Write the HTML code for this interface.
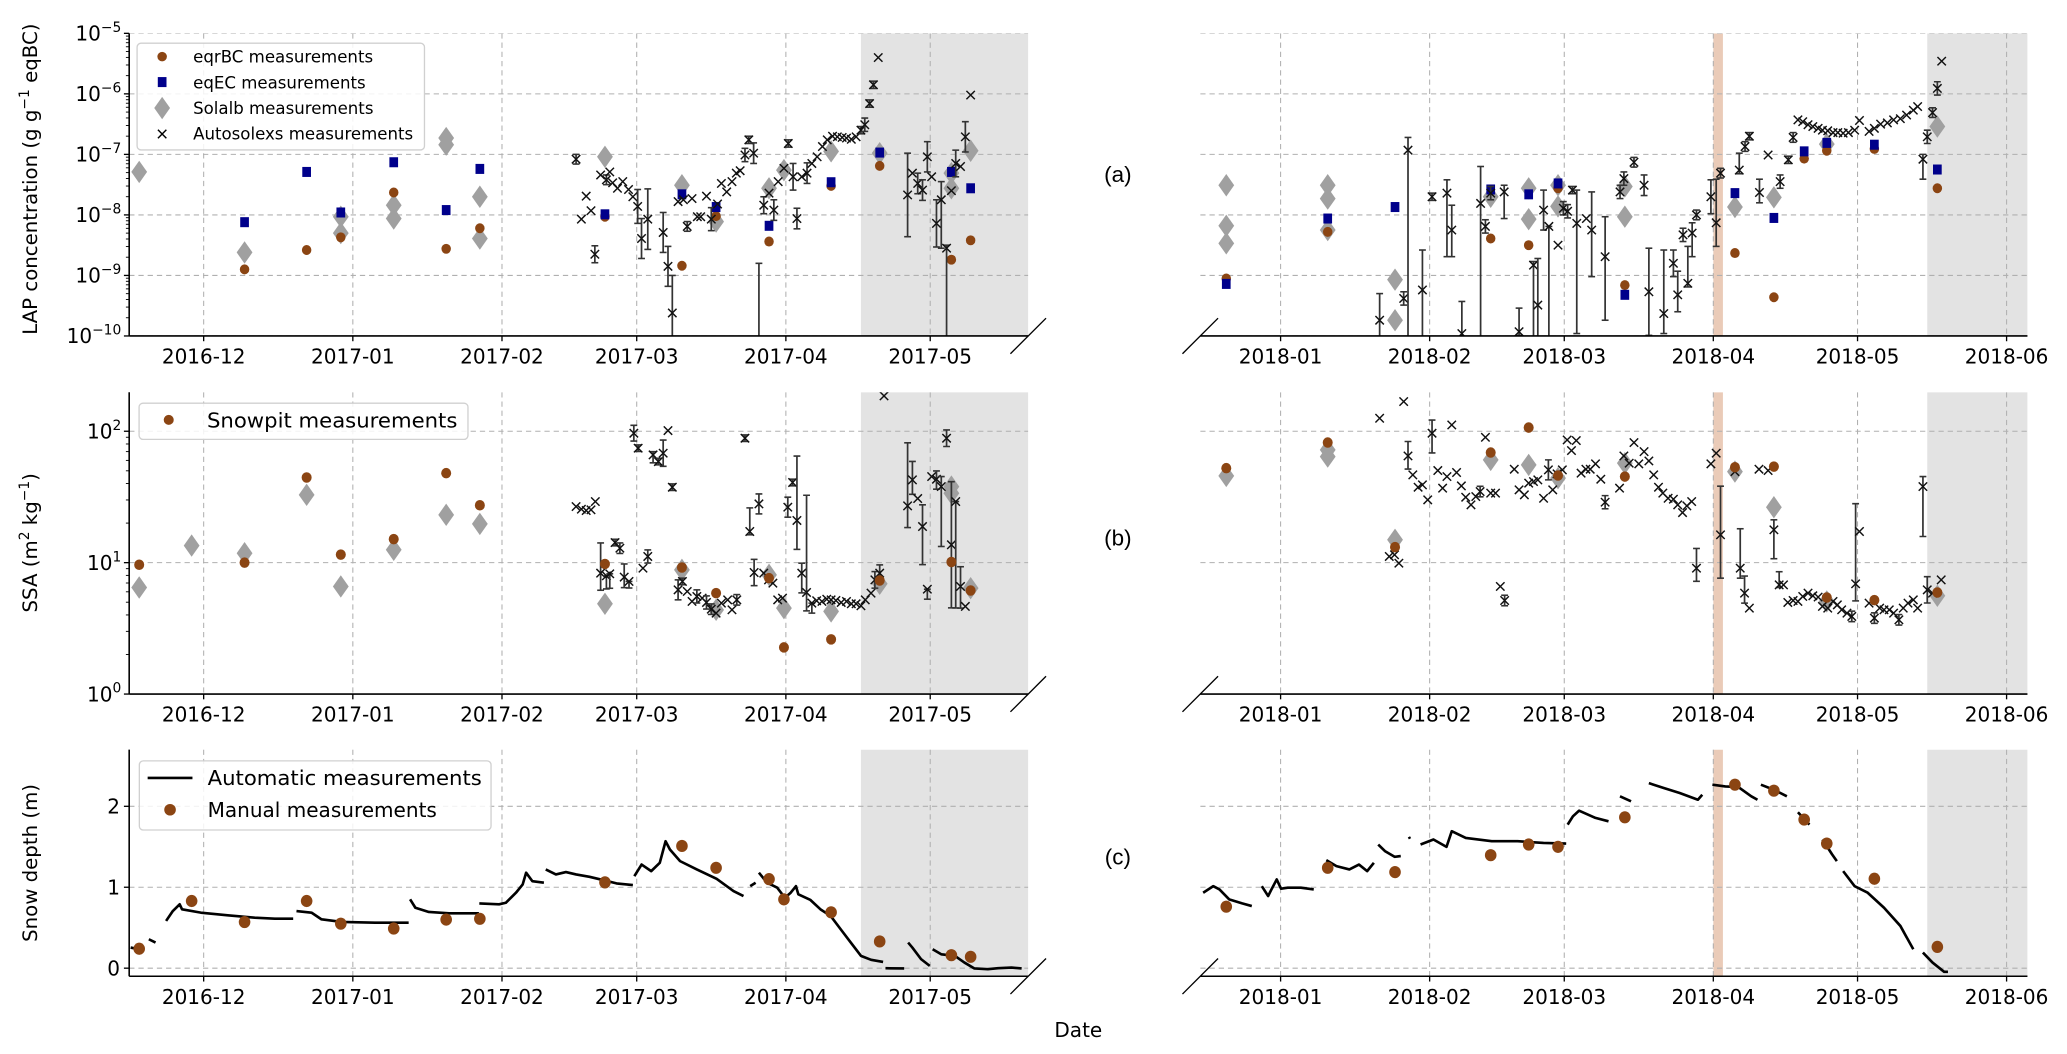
<!DOCTYPE html>
<html><head><meta charset="utf-8"><title>LAP, SSA and snow depth</title>
<style>
html,body{margin:0;padding:0;background:#fff;}
svg{display:block;font-family:"DejaVu Sans","Liberation Sans",sans-serif;}
</style></head>
<body>
<svg id="chart" width="2067" height="1054" viewBox="0 0 1568 800" preserveAspectRatio="none" xmlns="http://www.w3.org/2000/svg"></svg>
<script>
// ===== DATA (days since 2016-12-01 for left, since 2018-01-01 for right) =====
// Panel (a): log10 concentration (g g-1 eqBC)
const aL_bcDays = [8.5,21.4,28.5,39.5,50.4,57.4,83.4,99.4,106.5,117.5,130.4,140.5,155.4,159.4];
const aL_bcLog  = [-8.90,-8.58,-8.37,-7.63,-8.56,-8.22,-8.03,-8.84,-8.02,-8.44,-7.52,-7.19,-8.74,-8.42];
const aL_ecDays = [8.5,21.4,28.5,39.5,50.4,57.4,83.4,99.4,106.5,117.5,130.4,140.5,155.4,159.4];
const aL_ecLog  = [-8.12,-7.29,-7.96,-7.13,-7.92,-7.24,-7.99,-7.66,-7.87,-8.18,-7.46,-6.97,-7.29,-7.56];
const aL_solDays = [-13.4,8.5,28.5,28.5,39.5,39.5,50.4,50.4,57.4,57.4,83.4,99.4,106.5,117.5,120.6,130.4,140.5,155.4,155.4,159.4];
const aL_solLog  = [-7.29,-8.62,-8.03,-8.30,-7.84,-8.06,-6.73,-6.84,-7.70,-8.39,-7.04,-7.51,-8.11,-7.56,-7.26,-6.95,-6.98,-7.31,-7.56,-6.94];
// Autosolexs: [day, log10 value, err up, err down]
const aL_auto = [[77.4,-7.08,.08,.08],[78.5,-8.07,0,0],[79.5,-7.69,0,0],[80.5,-7.93,0,0],[81.3,-8.65,.14,.14],[82.5,-7.34,0,0],[83.7,-7.42,.08,.08],[84.4,-7.29,0,0],[85.0,-7.47,0,0],[86.0,-7.56,0,0],[87.1,-7.45,0,0],[88.3,-7.58,0,0],[89.2,-7.70,0,0],[90.2,-7.86,.28,.28],[91.0,-8.39,.33,.33],[92.3,-8.07,.5,.5],[95.5,-8.29,.33,.33],[96.5,-8.85,.33,.33],[97.4,-9.62,.62,2],[98.6,-7.78,0,0],[99.7,-7.75,0,0],[100.5,-8.19,.08,.08],[101.5,-7.73,0,0],[102.6,-8.03,0,0],[103.3,-8.03,0,0],[104.5,-7.69,0,0],[105.5,-8.07,.19,.19],[106.8,-7.82,0,0],[107.6,-7.48,0,0],[108.7,-7.62,0,0],[109.8,-7.45,0,0],[110.7,-7.31,0,0],[111.5,-7.27,0,0],[112.5,-7.01,.11,.11],[113.3,-6.76,.06,.06],[114.3,-6.98,.17,.17],[115.4,-10.5,1.7,0],[116.4,-7.84,.14,.14],[117.5,-7.64,0,0],[118.5,-7.92,.17,.17],[119.4,-7.45,0,0],[120.6,-7.23,0,0],[121.5,-6.82,.06,.06],[122.5,-7.37,.22,.22],[123.3,-8.06,.17,.17],[124.3,-7.37,0,0],[125.4,-7.31,.17,.17],[126.4,-7.15,0,0],[127.5,-7.04,0,0],[128.6,-6.87,0,0],[129.6,-6.76,0,0],[130.7,-6.70,0,0],[131.7,-6.71,0,0],[132.7,-6.72,0,0],[133.6,-6.73,0,0],[134.6,-6.75,0,0],[135.6,-6.71,0,0],[136.6,-6.60,.06,.06],[137.4,-6.51,.11,.11],[138.4,-6.16,.06,.06],[139.2,-5.85,.06,.06],[140.2,-5.40,0,0],[146.3,-7.67,.69,.69],[147.3,-7.31,0,0],[148.4,-7.48,.17,.17],[149.4,-7.59,.17,.17],[150.4,-7.04,.25,.25],[151.3,-7.37,0,0],[152.3,-8.14,.39,.39],[153.3,-7.75,.3,.8],[154.4,-8.55,.05,2],[155.4,-7.60,0,0],[156.3,-7.15,.22,.22],[157.3,-7.20,0,0],[158.3,-6.71,.25,.25],[159.4,-6.02,0,0]];
const aR_bcDays = [-11.3,9.8,43.7,51.6,57.7,71.6,94.5,102.6,108.9,113.6,123.5,136.6];
const aR_bcLog  = [-9.05,-8.28,-8.39,-8.50,-7.56,-9.16,-8.63,-9.36,-7.07,-6.94,-6.91,-7.56];
const aR_ecDays = [-11.3,9.8,23.8,43.7,51.6,57.7,71.6,94.5,102.6,108.9,113.6,123.5,136.6];
const aR_ecLog  = [-9.14,-8.06,-7.87,-7.58,-7.66,-7.48,-9.32,-7.64,-8.05,-6.95,-6.81,-6.84,-7.25];
const aR_solDays = [-11.3,-11.3,-11.3,9.8,9.8,9.8,23.8,23.8,43.7,51.6,51.6,57.7,57.7,71.6,71.6,94.5,102.6,113.6,136.6];
const aR_solLog  = [-7.51,-8.18,-8.47,-7.51,-7.73,-8.25,-9.07,-9.74,-7.70,-7.56,-8.07,-7.51,-7.86,-7.53,-8.03,-7.87,-7.71,-6.83,-6.54];
const aR_auto = [[20.6,-9.74,.44,.44],[25.6,-9.38,.11,.11],[26.5,-6.93,.21,3.1],[29.5,-9.24,.66,.77],[31.5,-7.70,.06,.06],[34.6,-7.64,.22,1.05],[35.6,-8.25,.41,.44],[37.7,-9.96,.53,.1],[41.6,-7.81,.61,2.2],[42.6,-8.19,.11,.11],[43.7,-7.64,.11,.11],[46.5,-7.62,.11,.44],[49.6,-9.93,.39,.06],[52.6,-8.83,.06,1.38],[53.5,-9.49,.77,.55],[54.7,-7.92,.33,.33],[55.8,-8.19,0,1.82],[57.7,-8.50,0,0],[58.8,-7.89,.11,.11],[59.7,-7.94,.11,.11],[60.7,-7.59,.06,.06],[61.6,-8.14,.55,1.82],[63.6,-8.06,0,0],[64.7,-8.25,.63,.77],[67.5,-8.69,.66,1.05],[70.6,-7.62,.11,.11],[71.4,-7.40,.11,.11],[73.5,-7.13,.08,.08],[75.6,-7.51,.17,.17],[76.6,-9.27,.72,.72],[79.7,-9.63,1.05,.33],[81.7,-8.80,.22,.22],[82.6,-9.32,.39,.28],[83.7,-8.33,.11,.11],[84.7,-9.13,.61,.06],[85.6,-8.30,.17,.39],[86.5,-8.00,.08,.08],[89.5,-7.70,.28,.28],[90.6,-8.13,.72,.39],[91.5,-7.31,.08,.08],[95.4,-7.26,.28,.06],[96.6,-6.87,.08,.08],[97.5,-6.70,.06,.06],[99.6,-7.63,.22,.17],[101.4,-7.01,0,0],[103.9,-7.45,.11,.11],[105.6,-7.09,.06,.06],[106.6,-6.72,.08,.08],[107.6,-6.43,0,0],[108.6,-6.46,0,0],[109.7,-6.51,0,0],[110.7,-6.54,0,0],[111.8,-6.57,0,0],[112.7,-6.60,0,0],[113.8,-6.61,0,0],[114.9,-6.64,0,0],[115.9,-6.64,0,0],[117.0,-6.65,0,0],[118.1,-6.64,0,0],[119.4,-6.60,0,0],[120.4,-6.44,0,0],[122.4,-6.62,0,0],[123.5,-6.57,0,0],[124.8,-6.50,0,0],[126.2,-6.48,0,0],[127.5,-6.43,0,0],[128.9,-6.41,0,0],[130.2,-6.35,0,0],[131.6,-6.27,0,0],[132.5,-6.21,0,0],[133.6,-7.08,.08,.33],[134.5,-6.71,.11,.11],[135.6,-6.31,.08,.08],[136.6,-5.91,.11,.11],[137.5,-5.46,0,0]];
// Panel (b): log10 SSA (m2 kg-1)
const bL_pitDays = [-13.4,8.5,21.4,28.5,39.5,50.4,57.4,83.4,99.4,106.5,117.5,120.6,130.4,140.5,155.4,159.4];
const bL_pitLog  = [0.984,1.0,1.648,1.061,1.179,1.681,1.437,0.99,0.963,0.768,0.882,0.355,0.416,0.864,1.005,0.788];
const bL_solDays = [-13.4,-2.5,8.5,21.4,28.5,39.5,50.4,57.4,83.4,99.4,106.5,117.5,120.6,130.4,140.5,155.4,155.4,159.4];
const bL_solLog  = [0.811,1.13,1.072,1.516,0.819,1.098,1.364,1.295,0.687,0.945,0.641,0.907,0.654,0.629,0.839,1.579,1.528,0.806];
const bL_auto = [[77.4,1.427,0,0],[78.5,1.407,0,0],[79.5,1.397,0,0],[80.5,1.402,0,0],[81.4,1.465,0,0],[82.5,0.920,.23,.13],[83.7,0.900,0,.10],[84.4,0.915,0,.11],[85.5,1.153,.025,.025],[86.5,1.110,.04,.04],[87.4,0.890,.10,.08],[88.4,0.857,0,.05],[89.4,1.985,.06,.06],[90.3,1.871,.025,.025],[91.3,0.958,0,0],[92.3,1.047,.05,.05],[93.4,1.820,.025,.06],[94.5,1.769,.025,.025],[95.5,1.833,.1,.1],[96.5,2.005,0,0],[97.4,1.574,.025,.025],[98.6,0.793,.076,.076],[99.5,0.857,.025,.025],[100.5,0.781,0,0],[101.5,0.705,0,0],[102.5,0.743,.05,.05],[103.6,0.730,0,0],[104.5,0.697,.05,.05],[105.5,0.646,.04,.04],[106.5,0.616,0,0],[107.6,0.692,0,0],[108.9,0.717,0,0],[109.8,0.641,0,0],[110.8,0.717,.04,.04],[112.5,1.947,.025,.025],[113.5,1.237,.18,.025],[114.4,0.925,.1,.1],[115.4,1.447,.076,.076],[116.4,0.920,0,0],[117.4,0.869,0,0],[118.3,0.844,0,0],[119.3,0.717,0,0],[120.3,0.730,0,0],[121.4,1.422,.076,.076],[122.4,1.610,.025,.025],[123.3,1.321,.49,.22],[124.3,0.920,.076,.15],[125.3,0.773,.74,.14],[126.4,0.692,0,.076],[127.4,0.710,0,0],[128.5,0.705,0,0],[129.5,0.722,0,0],[130.4,0.717,0,0],[131.4,0.712,0,0],[132.5,0.697,0,0],[133.6,0.705,0,0],[134.6,0.687,0,0],[135.6,0.687,0,0],[136.6,0.672,0,0],[137.5,0.717,0,0],[138.7,0.768,0,0],[139.5,0.869,.063,.063],[140.5,0.920,.063,.063],[141.4,2.269,0,0],[146.3,1.432,.48,.165],[147.3,1.630,.14,.11],[148.4,1.488,0,0],[149.4,1.275,.165,.29],[150.4,0.798,0,.076],[151.3,1.655,0,0],[152.3,1.635,.063,.076],[153.3,1.579,.076,.456],[154.4,1.947,.063,.063],[155.4,1.136,.48,.48],[156.3,1.465,0,.81],[157.3,0.819,.15,.165],[158.3,0.667,0,0]];
const bR_pitDays = [-11.3,9.8,23.8,43.7,51.6,57.7,71.6,94.5,102.6,113.6,123.5,136.6];
const bR_pitLog  = [1.719,1.914,1.118,1.838,2.028,1.663,1.655,1.726,1.731,0.735,0.715,0.773];
const bR_solDays = [-11.3,9.8,9.8,23.8,43.7,51.6,57.7,71.6,94.5,102.6,113.6,136.6];
const bR_solLog  = [1.660,1.858,1.807,1.174,1.782,1.744,1.643,1.757,1.693,1.422,0.705,0.748];
const bR_auto = [[20.6,2.099,0,0],[22.6,1.047,0,0],[23.7,1.060,0,0],[24.6,0.996,0,0],[25.6,2.226,0,0],[26.5,1.812,.11,.10],[27.5,1.668,0,0],[28.6,1.574,0,0],[29.5,1.592,0,0],[30.6,1.478,0,0],[31.5,1.985,.1,.15],[32.7,1.701,0,0],[33.7,1.567,0,0],[34.6,1.655,0,0],[35.6,2.048,0,0],[36.6,1.686,0,0],[37.6,1.584,0,0],[38.5,1.498,0,0],[39.6,1.440,0,0],[40.6,1.503,0,0],[41.5,1.541,.04,.04],[42.6,1.954,0,0],[43.7,1.529,0,0],[44.7,1.529,0,0],[45.7,0.819,0,0],[46.6,0.712,.04,.04],[48.6,1.711,0,0],[49.6,1.554,0,0],[50.7,1.516,0,0],[51.6,1.605,0,0],[52.6,1.617,0,0],[53.5,1.630,0,0],[54.7,1.490,0,0],[55.7,1.706,.076,.076],[56.6,1.554,0,0],[57.5,1.676,0,0],[58.6,1.706,0,0],[59.6,1.934,0,0],[60.5,1.853,0,0],[61.5,1.929,0,0],[62.5,1.681,0,0],[63.5,1.711,0,0],[64.4,1.711,0,0],[65.5,1.752,0,0],[66.6,1.635,0,0],[67.5,1.460,.05,.05],[70.5,1.567,0,0],[71.4,1.812,0,0],[72.5,1.757,0,0],[73.5,1.914,0,0],[74.5,1.752,0,0],[75.6,1.845,0,0],[76.6,1.774,0,0],[77.6,1.668,0,0],[78.6,1.574,0,0],[79.5,1.529,0,0],[80.6,1.490,0,0],[81.7,1.483,0,0],[82.6,1.440,0,0],[83.6,1.381,0,0],[84.5,1.432,0,0],[85.5,1.465,0,0],[86.5,0.958,.15,.10],[89.5,1.752,0,0],[90.6,1.833,0,0],[91.5,1.212,.37,.33],[94.5,1.693,0,0],[95.6,0.958,.30,.076],[96.5,0.768,.13,.076],[97.5,0.654,0,0],[99.5,1.711,0,0],[101.4,1.701,0,0],[102.6,1.250,.076,.22],[103.7,0.831,.10,.02],[104.6,0.831,0,0],[105.5,0.697,0,0],[106.6,0.712,0,0],[107.6,0.705,0,0],[108.6,0.743,0,0],[109.7,0.768,0,0],[110.7,0.748,0,0],[111.8,0.738,0,0],[112.7,0.667,0,0],[113.8,0.654,0,0],[114.9,0.705,0,0],[115.8,0.679,0,0],[116.7,0.641,0,0],[117.8,0.616,0,0],[118.8,0.591,.04,.04],[119.6,0.839,.61,.13],[120.4,1.237,0,0],[122.4,0.692,0,0],[123.5,0.578,.04,.04],[124.6,0.654,0,0],[125.5,0.641,0,0],[126.6,0.641,0,0],[127.5,0.616,0,0],[128.6,0.565,.04,.04],[129.5,0.654,0,0],[130.5,0.692,0,0],[131.6,0.717,0,0],[132.5,0.654,0,0],[133.6,1.579,.076,.38],[134.5,0.793,.10,.10],[135.6,0.768,0,0],[137.4,0.869,0,0]];
// Panel (c): snow depth (m)
const cL_manDays = [-13.4,-2.5,8.5,21.4,28.5,39.5,50.4,57.4,83.4,99.4,106.5,117.5,120.6,130.4,140.5,155.4,159.4];
const cL_manDepth = [0.24,0.83,0.57,0.83,0.55,0.49,0.60,0.61,1.06,1.51,1.24,1.10,0.85,0.69,0.33,0.16,0.14];
const cL_autoDays = [-15.18,-12.8,null,-11.4,-10.0,null,-7.8,-6.4,-5.0,-4.5,-0.6,5.0,10.6,14.8,18.6,null,19.3,22.4,24.5,28.7,35.6,42.6,null,42.9,44.0,46.8,51.0,57.2,null,57.3,61.4,62.8,64.9,66.3,67.0,68.3,70.7,null,71.1,73.2,75.3,77.4,80.2,83.0,85.8,89.2,null,89.5,91.0,93.0,94.8,96.0,96.9,99.0,102.5,106.6,110.1,112.2,null,113.6,114.7,null,115.4,117.1,119.2,120.8,122.0,123.1,123.6,126.1,128.2,130.3,132.4,134.5,136.6,138.7,141.2,null,141.7,145.6,null,146.4,147.3,149.1,150.9,null,151.5,153.3,156.1,158.1,160.2,163.0,165.1,167.9,170.0];
const cL_autoDepth = [0.255,0.226,null,0.357,0.316,null,0.583,0.706,0.789,0.727,0.686,0.653,0.624,0.612,0.612,null,0.706,0.686,0.604,0.571,0.563,0.563,null,0.850,0.747,0.694,0.678,0.678,null,0.801,0.789,0.809,0.932,1.035,1.179,1.076,1.055,null,1.220,1.158,1.187,1.158,1.129,1.088,1.047,1.027,null,1.138,1.281,1.199,1.302,1.569,1.466,1.322,1.220,1.105,0.953,0.891,null,1.014,1.055,null,1.179,1.055,0.994,0.871,0.932,1.014,0.912,0.842,0.727,0.645,0.480,0.316,0.152,0.103,0.078,null,0,-0.004,null,0.316,0.255,0.111,0.029,null,0.234,0.172,0.152,0.070,-0.004,-0.012,0,0.008,-0.004];
const cR_manDays = [-11.3,9.8,23.8,43.7,51.6,57.7,71.6,94.5,102.6,108.9,113.6,123.5,136.6];
const cR_manDepth = [0.760,1.240,1.187,1.396,1.528,1.499,1.864,2.267,2.193,1.836,1.540,1.105,0.263];
const cR_autoDays = [-16.1,-14.0,-12.7,-10.7,-8.0,-6.0,null,-3.9,-2.6,-1.9,-0.8,0.1,1.5,4.2,6.9,null,9.5,11.6,14.3,16.3,18.0,19.4,null,20.3,21.7,23.7,25.0,null,26.7,26.9,null,29.1,31.8,34.5,35.6,38.5,43.9,49.3,54.7,59.4,null,59.7,60.8,62.1,65.5,68.2,null,70.6,72.9,null,76.6,79.7,83.0,86.8,87.7,null,89.8,92.5,95.2,97.9,99.2,null,99.9,102.6,105.3,null,107.6,110.0,null,112.7,114.7,115.7,null,117.0,119.4,122.1,125.5,128.9,131.6,null,133.6,135.6,138.0,138.8];
const cR_autoDepth = [0.932,1.014,0.973,0.850,0.801,0.768,null,1.014,0.891,0.973,1.097,0.982,0.994,0.994,0.973,null,1.335,1.261,1.220,1.281,1.199,1.302,null,1.528,1.446,1.376,1.384,null,1.622,1.600,null,1.528,1.589,1.499,1.692,1.610,1.569,1.569,1.548,1.540,null,1.774,1.877,1.947,1.856,1.815,null,2.123,2.062,null,2.287,2.226,2.164,2.082,2.144,null,2.267,2.246,2.238,2.123,2.082,null,2.267,2.205,2.123,null,1.926,1.774,null,1.589,1.405,1.322,null,1.199,1.014,0.932,0.747,0.522,0.234,null,0.193,0.070,-0.045,-0.045];
// Axis ticks
const leftTickDays = [0,31,62,90,121,151];
const leftTickLabels = ["2016-12","2017-01","2017-02","2017-03","2017-04","2017-05"];
const rightTickDays = [0,31,59,90,120,151];
const rightTickLabels = ["2018-01","2018-02","2018-03","2018-04","2018-05","2018-06"];
const aTickExp = [-10,-9,-8,-7,-6,-5];
const bTickExp = [0,1,2];
const cTicks = [0,1,2];
const leftShadeStart = 136.6;
const rightShadeStart = 134.5;
const rightBand = [90.0, 92.0];

// ===== LAYOUT =====
const NS = "http://www.w3.org/2000/svg";
const svg = document.getElementById('chart');
const SIDES = {
  L:{x0:98,x1:780,d0:-15.48,d1:171.37},
  R:{x0:910.5,x1:1538,d0:-16.71,d1:155.34}
};
const PANELS = {
  a:{y0:255,y1:25.3,v0:-10,v1:-5},
  b:{y0:526.8,y1:297.7,v0:0,v1:2.297},
  c:{y0:741,y1:569,v0:-0.1,v1:2.70}
};
const BROWN="#8b4513", BLUE="#00008b", GREY="#a0a0a0";
function xs(s,d){const S=SIDES[s];return S.x0+(d-S.d0)*(S.x1-S.x0)/(S.d1-S.d0);}
function ys(p,v){const P=PANELS[p];return P.y0+(v-P.v0)*(P.y1-P.y0)/(P.v1-P.v0);}
function mk(tag,attrs,parent){const e=document.createElementNS(NS,tag);for(const k in attrs)e.setAttribute(k,attrs[k]);(parent||svg).appendChild(e);return e;}

const defs=mk('defs',{});
let clipN=0;
function axesGroup(s,p){
  const S=SIDES[s],P=PANELS[p];
  const id='clip'+(clipN++);
  const cp=mk('clipPath',{id:id},defs);
  mk('rect',{x:S.x0,y:P.y1,width:S.x1-S.x0,height:P.y0-P.y1},cp);
  const g=mk('g',{});
  
  
  const inner=mk('g',{'clip-path':'url(#'+id+')'},g);
  return {g,inner,S,P};
}
function textEl(parent,x,y,str,size,anchor,extra){
  const t=mk('text',Object.assign({x:x,y:y,'font-size':size,'text-anchor':anchor||'start',fill:'#000'},extra||{}),parent);
  t.textContent=str;return t;
}

function drawAxes(s,p){
  const A=axesGroup(s,p); const {g,inner,S,P}=A;
  // shading
  const shStart = s==='L'?leftShadeStart:rightShadeStart;
  const sh=mk('rect',{x:xs(s,shStart),y:P.y1,width:S.x1-xs(s,shStart),height:P.y0-P.y1,fill:'#e3e3e3'},inner);
  
  
  if(s==='R'){
    const bd=mk('rect',{x:xs(s,rightBand[0]),y:P.y1,width:xs(s,rightBand[1])-xs(s,rightBand[0]),height:P.y0-P.y1,fill:'#eacbb8'},inner);
    
    
  }
  // grid
  const ticksD = s==='L'?leftTickDays:rightTickDays;
  const labs = s==='L'?leftTickLabels:rightTickLabels;
  ticksD.forEach(d=>{
    const x=xs(s,d);
    const gl=mk('line',{x1:x,x2:x,y1:P.y1,y2:P.y0,stroke:'#b0b0b0','stroke-width':0.8,'stroke-dasharray':'4,3'},inner);
    
    
  });
  let yt = p==='a'?aTickExp:(p==='b'?bTickExp:cTicks);
  yt.forEach(v=>{
    const y=ys(p,v);
    const gl=mk('line',{x1:S.x0,x2:S.x1,y1:y,y2:y,stroke:'#b0b0b0','stroke-width':0.8,'stroke-dasharray':'4,3'},inner);
    
    
  });
  // bottom spine
  const sp=mk('line',{x1:S.x0,x2:S.x1,y1:P.y0,y2:P.y0,stroke:'#000','stroke-width':1.2},g);
  
  
  // break marks
  const bx = s==='L'?S.x1:S.x0;
  const br=mk('line',{x1:bx-13.5,y1:P.y0+13.5,x2:bx+13.5,y2:P.y0-13.5,stroke:'#000','stroke-width':1},g);
  
  
  // x ticks and labels
  ticksD.forEach((d,i)=>{
    const x=xs(s,d);
    mk('line',{x1:x,x2:x,y1:P.y0,y2:P.y0+4,stroke:'#000','stroke-width':1},g);
    const t=textEl(g,x,P.y0+21,labs[i],15.2,'middle');
    
    
  });
  if(s==='L'){
    const ls=mk('line',{x1:S.x0,x2:S.x0,y1:P.y1,y2:P.y0,stroke:'#000','stroke-width':1.2},g);
    
    
    yt.forEach(v=>{
      const y=ys(p,v);
      mk('line',{x1:S.x0-4,x2:S.x0,y1:y,y2:y,stroke:'#000','stroke-width':1},g);
      let t;
      if(p==='c'){
        t=textEl(g,S.x0-7,y+5.5,String(v),15.2,'end');
      } else {
        t=mk('text',{x:S.x0-6,y:y+5.5,'font-size':15.2,'text-anchor':'end',fill:'#000'},g);
        const t1=mk('tspan',{},t); t1.textContent='10';
        const t2=mk('tspan',{'font-size':10.5,dy:-6.5}); t.appendChild(t2); t2.textContent=(v<0?'\u2212':'')+Math.abs(v);
      }
      
      
    });
    if(p!=='c'){
      // minor log ticks
      for(let e=Math.floor(P.v0);e<P.v1;e++){
        for(let m=2;m<10;m++){
          const v=e+Math.log10(m); if(v>P.v1) break;
          const y=ys(p,v);
          mk('line',{x1:S.x0-2.5,x2:S.x0,y1:y,y2:y,stroke:'#000','stroke-width':0.7},g);
        }
      }
    }
  }
  return A;
}

function diamonds(A,s,p,days,vals,name){
  days.forEach((d,i)=>{
    const x=xs(s,d),y=ys(p,vals[i]);
    const e=mk('polygon',{points:`${x},${y-8.5} ${x+6},${y} ${x},${y+8.5} ${x-6},${y}`,fill:GREY},A.inner);
    
    
  });
}
function circles(A,s,p,days,vals,name,r){
  days.forEach((d,i)=>{
    const e=mk('ellipse',{cx:xs(s,d),cy:ys(p,vals[i]),rx:r,ry:r*1.05,fill:BROWN},A.inner);
    
    
  });
}
function squares(A,s,p,days,vals,name){
  days.forEach((d,i)=>{
    const x=xs(s,d),y=ys(p,vals[i]);
    const e=mk('rect',{x:x-3.3,y:y-3.8,width:6.6,height:7.6,fill:BLUE},A.inner);
    
    
  });
}
function autos(A,s,p,arr,name){
  arr.forEach(r=>{
    const x=xs(s,r[0]),y=ys(p,r[1]);
    const g=mk('g',{},A.inner);
    
    
    if(r[2]>0||r[3]>0){
      const yt=ys(p,r[1]+r[2]), yb=ys(p,r[1]-r[3]);
      mk('line',{x1:x,x2:x,y1:yt,y2:yb,stroke:'#333','stroke-width':1.3},g);
      mk('line',{x1:x-2.6,x2:x+2.6,y1:yt,y2:yt,stroke:'#333','stroke-width':1.2},g);
      mk('line',{x1:x-2.6,x2:x+2.6,y1:yb,y2:yb,stroke:'#333','stroke-width':1.2},g);
    }
    const h=3.2;
    mk('path',{d:`M${x-h},${y-h}L${x+h},${y+h}M${x-h},${y+h}L${x+h},${y-h}`,stroke:'#111','stroke-width':1.1,fill:'none'},g);
  });
}
function depthLine(A,s,days,vals,name){
  let d='',pen=false;
  days.forEach((t,i)=>{
    if(t===null||vals[i]===null){pen=false;return;}
    const x=xs(s,t),y=ys('c',vals[i]);
    d+=(pen?'L':'M')+x.toFixed(1)+','+y.toFixed(1);pen=true;
  });
  const e=mk('path',{d:d,stroke:'#000','stroke-width':2,fill:'none','stroke-linejoin':'round'},A.inner);
  
  
}

// ===== PANEL A =====
let A=drawAxes('L','a');
diamonds(A,'L','a',aL_solDays,aL_solLog,'solalb-point');
circles(A,'L','a',aL_bcDays,aL_bcLog,'eqrbc-point',3.6);
squares(A,'L','a',aL_ecDays,aL_ecLog,'eqec-point');
autos(A,'L','a',aL_auto,'autosolexs-point');
A=drawAxes('R','a');
diamonds(A,'R','a',aR_solDays,aR_solLog,'solalb-point');
circles(A,'R','a',aR_bcDays,aR_bcLog,'eqrbc-point',3.6);
squares(A,'R','a',aR_ecDays,aR_ecLog,'eqec-point');
autos(A,'R','a',aR_auto,'autosolexs-point');
// ===== PANEL B =====
A=drawAxes('L','b');
diamonds(A,'L','b',bL_solDays,bL_solLog,'solalb-point');
autos(A,'L','b',bL_auto,'autosolexs-point');
circles(A,'L','b',bL_pitDays,bL_pitLog,'snowpit-point',3.8);
A=drawAxes('R','b');
diamonds(A,'R','b',bR_solDays,bR_solLog,'solalb-point');
autos(A,'R','b',bR_auto,'autosolexs-point');
circles(A,'R','b',bR_pitDays,bR_pitLog,'snowpit-point',3.8);
// ===== PANEL C =====
A=drawAxes('L','c');
depthLine(A,'L',cL_autoDays,cL_autoDepth,'automatic-depth-line');
circles(A,'L','c',cL_manDays,cL_manDepth,'manual-depth-point',4.4);
A=drawAxes('R','c');
depthLine(A,'R',cR_autoDays,cR_autoDepth,'automatic-depth-line');
circles(A,'R','c',cR_manDays,cR_manDepth,'manual-depth-point',4.4);

// ===== LEGENDS =====
function legendBox(x,y,w,h,name){
  const g=mk('g',{});
  
  
  mk('rect',{x:x,y:y,width:w,height:h,rx:3,fill:'#fff','fill-opacity':0.85,stroke:'#d0d0d0','stroke-width':1},g);
  return g;
}
let lg=legendBox(104,32.8,218,81,'legend-lap');
let le;
le=mk('circle',{cx:123,cy:43,r:3.6,fill:BROWN},lg);
le=textEl(lg,146.5,47.5,'eqrBC measurements',12.6,'start');


mk('rect',{x:119.7,y:58.5,width:6.6,height:7.6,fill:BLUE},lg);
le=textEl(lg,146.5,67,'eqEC measurements',12.6,'start');


mk('polygon',{points:'123,73.5 129,82 123,90.5 117,82',fill:GREY},lg);
le=textEl(lg,146.5,86.5,'Solalb measurements',12.6,'start');


mk('path',{d:'M119.8,98.5L126.2,104.9M119.8,104.9L126.2,98.5',stroke:'#000','stroke-width':1.1},lg);
le=textEl(lg,146.5,106,'Autosolexs measurements',12.6,'start');



lg=legendBox(105.5,306,249.5,27.5,'legend-ssa');
mk('circle',{cx:128,cy:318.7,r:3.8,fill:BROWN},lg);
le=textEl(lg,157,324.5,'Snowpit measurements',15.2,'start',{textLength:190,lengthAdjust:'spacingAndGlyphs'});



lg=legendBox(105.7,577.5,266.8,52.5,'legend-depth');
mk('line',{x1:112,x2:146,y1:590.5,y2:590.5,stroke:'#000','stroke-width':2},lg);
le=textEl(lg,157.5,596,'Automatic measurements',15.2,'start',{textLength:208,lengthAdjust:'spacingAndGlyphs'});


mk('circle',{cx:129,cy:614.6,r:4.4,fill:BROWN},lg);
le=textEl(lg,157.5,620,'Manual measurements',15.2,'start');



// ===== AXIS TITLES & PANEL LABELS =====
let t=mk('text',{x:0,y:0,'font-size':15,'text-anchor':'middle',fill:'#000',transform:'translate(28,136) rotate(-90)'});
t.innerHTML='LAP concentration (g g<tspan dy="-6" font-size="10.5">\u22121</tspan><tspan dy="6"> eqBC)</tspan>';


t=mk('text',{x:0,y:0,'font-size':15,'text-anchor':'middle',fill:'#000',transform:'translate(28,412) rotate(-90)'});
t.innerHTML='SSA (m<tspan dy="-6" font-size="10.5">2</tspan><tspan dy="6"> kg</tspan><tspan dy="-6" font-size="10.5">\u22121</tspan><tspan dy="6">)</tspan>';


t=mk('text',{x:0,y:0,'font-size':15,'text-anchor':'middle',fill:'#000',transform:'translate(28,655) rotate(-90)'});
t.textContent='Snow depth (m)';


t=textEl(svg,818,787,'Date',15.2,'middle');


t=mk('text',{x:848,y:138,'font-size':17,'text-anchor':'middle',fill:'#000','font-family':'Liberation Sans, sans-serif'});
t.textContent='(a)';


t=mk('text',{x:848,y:414,'font-size':17,'text-anchor':'middle',fill:'#000','font-family':'Liberation Sans, sans-serif'});
t.textContent='(b)';


t=mk('text',{x:848,y:656,'font-size':17,'text-anchor':'middle',fill:'#000','font-family':'Liberation Sans, sans-serif'});
t.textContent='(c)';


</script>
</body></html>
